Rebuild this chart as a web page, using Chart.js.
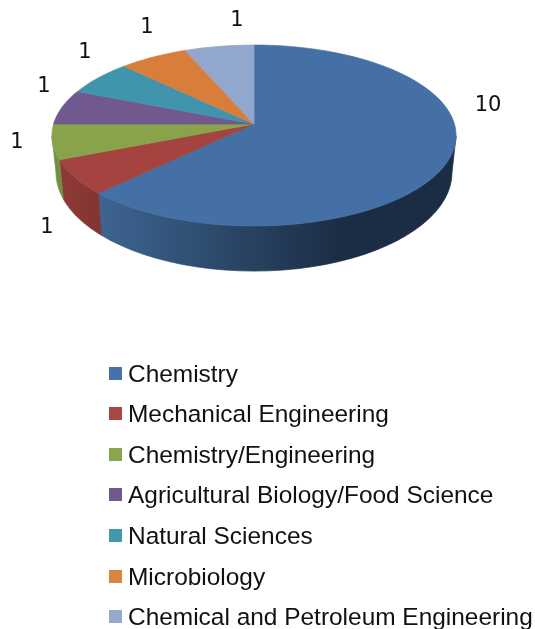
<!DOCTYPE html>
<html lang="en">
<head>
    <meta charset="UTF-8">
    <title>Fields of study</title>
    <style>
        html, body { margin: 0; padding: 0; background: #fff; overflow: hidden; }
        #wrap { position: relative; width: 535px; height: 629px; overflow: hidden; }
        #myChart { position: absolute; left: 0; top: 0; }
        .item { position: absolute; left: 128px; font: 24.45px "Liberation Sans", Arial, sans-serif; color: #111; white-space: nowrap; line-height: 28px; }
        .box { position: absolute; left: 109px; width: 13px; height: 13px; }
    </style>
</head>
<body>
    <div id="wrap">
        <canvas id="myChart" width="535" height="629" role="img" aria-label="3D pie chart of fields of study"></canvas>
        <div id="legend"></div>
    </div>

    <script src="https://cdn.jsdelivr.net/npm/chart.js@4/dist/chart.umd.min.js"></script>
    <script>
        var categories = ['Chemistry', 'Mechanical Engineering', 'Chemistry/Engineering', 'Agricultural Biology/Food Science', 'Natural Sciences', 'Microbiology', 'Chemical and Petroleum Engineering'];
        var values = [10, 1, 1, 1, 1, 1, 1];
        var topColors = ['#4570a6', '#a54341', '#89a34b', '#71588f', '#4095ad', '#d87e3a', '#92a7cd'];
        var legendColors = ['#4672a8', '#aa4644', '#89a54e', '#71588f', '#4298af', '#db843d', '#93a9cf'];
        var sideColors = [['#3d6591', '#1b2d44'], ['#8e3a38', '#823532'], ['#758f40', '#6c863a'], ['#5c4775', '#5c4775'], ['#347a8e', '#347a8e'], ['#b0662e', '#b0662e'], ['#7789a8', '#7789a8']];

        // label spots are worked out by eye, Office does not put them on a radius
        var labelSpots = [[488, 106], [47, 228], [17, 143], [44, 87], [85, 53], [147, 28], [237, 21]];

        // perspective of the disc, apex is not the middle of the ellipse
        var tilt = 0.127;
        var topDisc = { x: 254, y: 124, a: 200.4, b: 89 };
        var bottomDisc = { x: 254, y: 160, a: 196.4, b: 97 };

        function project(disc, angle) {
            var u = Math.cos(angle), v = Math.sin(angle);
            var w = 1 - tilt * v;
            return { x: disc.x + disc.a * u / w, y: disc.y + disc.b * v / w };
        }

        function sidePath(ctx, start, end) {
            var i, steps = 60, pts = [];
            for (i = 0; i <= steps; i++) {
                var a = start + (end - start) * i / steps;
                if (Math.sin(a) >= tilt) pts.push(a);
            }
            if (pts.length < 2) return false;
            ctx.beginPath();
            pts.forEach(function (a, n) {
                var p = project(topDisc, a);
                if (n === 0) ctx.moveTo(p.x, p.y); else ctx.lineTo(p.x, p.y);
            });
            pts.reverse().forEach(function (a) {
                var p = project(bottomDisc, a);
                ctx.lineTo(p.x, p.y);
            });
            ctx.closePath();
            return true;
        }

        var pie3d = {
            id: 'pie3d',
            beforeDatasetDraw: function (chart) {
                var ctx = chart.ctx;
                var arcs = chart.getDatasetMeta(0).data;
                ctx.save();
                ctx.lineWidth = 0.7;
                ctx.lineJoin = 'round';

                // walls first, the top face goes over them
                arcs.forEach(function (arc, i) {
                    if (!sidePath(ctx, arc.startAngle, arc.endAngle)) return;
                    var g = ctx.createLinearGradient(i === 0 ? 100 : 60, 0, i === 0 ? 340 : 100, 0);
                    g.addColorStop(0, sideColors[i][0]);
                    g.addColorStop(1, sideColors[i][1]);
                    ctx.fillStyle = g;
                    ctx.strokeStyle = g;
                    ctx.fill();
                    ctx.stroke();
                });

                arcs.forEach(function (arc, i) {
                    var steps = Math.ceil((arc.endAngle - arc.startAngle) * 40);
                    ctx.beginPath();
                    ctx.moveTo(topDisc.x, topDisc.y);
                    for (var s = 0; s <= steps; s++) {
                        var p = project(topDisc, arc.startAngle + (arc.endAngle - arc.startAngle) * s / steps);
                        ctx.lineTo(p.x, p.y);
                    }
                    ctx.closePath();
                    ctx.fillStyle = arc.options.backgroundColor;
                    ctx.strokeStyle = arc.options.backgroundColor;
                    ctx.fill();
                    ctx.stroke();
                });

                ctx.fillStyle = '#111';
                ctx.font = '21px "DejaVu Sans"';
                ctx.textAlign = 'center';
                ctx.textBaseline = 'middle';
                values.forEach(function (val, i) {
                    ctx.fillText(String(val), labelSpots[i][0], labelSpots[i][1]);
                });

                ctx.restore();
                return false;
            }
        };

        new Chart(document.getElementById('myChart'), {
            type: 'pie',
            data: {
                labels: categories,
                datasets: [{ data: values, backgroundColor: topColors, borderWidth: 0 }]
            },
            options: {
                responsive: false,
                animation: false,
                plugins: { legend: { display: false }, tooltip: { enabled: false } }
            },
            plugins: [pie3d]
        });

        var legendEl = document.getElementById('legend');
        categories.forEach(function (name, i) {
            var mid = 373.5 + i * 40.6;
            var box = document.createElement('div');
            box.className = 'box';
            box.style.top = (mid - 7) + 'px';
            box.style.background = legendColors[i];
            var item = document.createElement('div');
            item.className = 'item';
            item.style.top = (mid - 14) + 'px';
            item.textContent = name;
            legendEl.appendChild(box);
            legendEl.appendChild(item);
        });
    </script>
</body>
</html>
